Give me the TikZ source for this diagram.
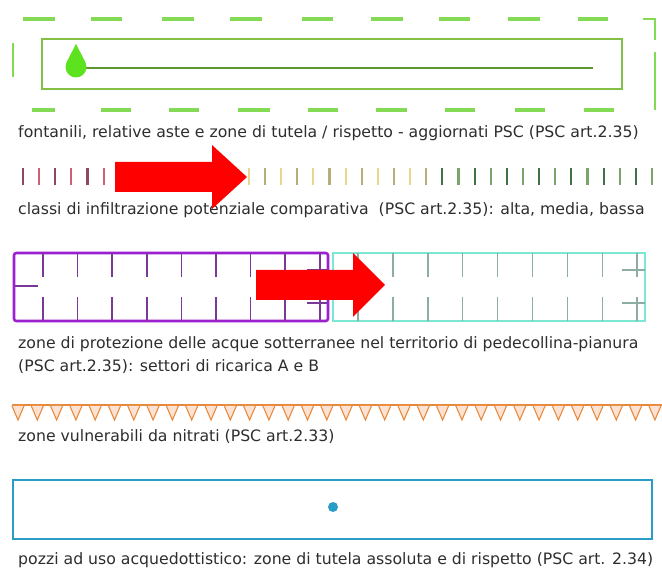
\documentclass[tikz,border=0pt]{standalone}
\usepackage{xcolor}
\usepackage{fontspec}
\setmainfont{DejaVu Sans}
\usepackage{tikz}
\usetikzlibrary{calc, positioning}

\definecolor{dashgreen}{RGB}{132,218,84}
\definecolor{rodgreen}{RGB}{132,192,70}
\definecolor{linegreen}{RGB}{96,150,50}
\definecolor{dropgreen}{RGB}{92,226,30}
\definecolor{infA}{RGB}{140,74,92}
\definecolor{infB}{RGB}{204,96,122}
\definecolor{infC}{RGB}{232,214,140}
\definecolor{infD}{RGB}{182,174,120}
\definecolor{infE}{RGB}{66,112,72}
\definecolor{infF}{RGB}{122,164,106}
\definecolor{zoneA}{RGB}{156,32,208}
\definecolor{zoneAtick}{RGB}{120,58,150}
\definecolor{zoneB}{RGB}{124,232,212}
\definecolor{zoneBtick}{RGB}{140,172,164}
\definecolor{nitro}{RGB}{232,136,58}
\definecolor{nitrofill}{RGB}{252,226,210}
\definecolor{pozzo}{RGB}{42,156,200}
\definecolor{legtext}{RGB}{45,45,45}

\begin{document}
\begin{tikzpicture}[x=0.03cm, y=-0.03cm,
    legend/.style={anchor=west, inner sep=0pt, text=legtext, font=\fontsize{13.4}{15}\selectfont},
    bigarrow/.style={fill=red},
    inftick/.style={line width=1.8pt},
    zonetick/.style={line width=1.3pt}]
\useasboundingbox (0,0) rectangle (662,570);

% fontanili
\foreach \xa/\xb in {23/55, 91/122, 162/194, 230/262, 302/333, 371/403, 439/470, 508/540, 578/608}
    \draw[dashgreen, line width=2.7pt] (\xa,19) -- (\xb,19);
\foreach \xa/\xb in {32/55, 101/131, 169/199, 238/270, 308/338, 376/407, 445/475, 515/545, 584/614}
    \draw[dashgreen, line width=2.7pt] (\xa,110) -- (\xb,110);
\draw[dashgreen, line width=1.8pt] (13,43) -- (13,77);
\draw[dashgreen, line width=2pt] (643,19) -- (655,19) -- (655,40);
\draw[dashgreen, line width=1.8pt] (655,52) -- (655,110);
\draw[rodgreen, line width=1.4pt] (42,39) rectangle (622,89);
\draw[linegreen, line width=2pt] (84,68) -- (593,68);
\fill[dropgreen] (76,67) circle (10.5);
\fill[dropgreen] (76,44) -- (85.4,62.2) -- (66.6,62.2) -- cycle;
\node[legend] (fontanili) at (18,133) {fontanili, relative aste e zone di tutela / rispetto - aggiornati PSC (PSC art.2.35)};

% classi di infiltrazione
\foreach \k in {0,...,39}{
    \ifnum\k<13 \ifodd\k \def\tc{infB}\else\def\tc{infA}\fi
    \else\ifnum\k<26 \ifodd\k \def\tc{infD}\else\def\tc{infC}\fi
    \else \ifodd\k \def\tc{infF}\else\def\tc{infE}\fi\fi\fi
    \draw[inftick, \tc] (23+16.13*\k,168) -- (23+16.13*\k,185);
}
\node[legend] (infiltrazione) at (18,210) {classi di infiltrazione potenziale comparativa\ \ (PSC art.2.35): alta, media, bassa};
\fill[bigarrow, shift={(115,177)}] (0,-15) -- (97,-15) -- (97,-32) -- (132,0) -- (97,32) -- (97,15) -- (0,15) -- cycle;

% settori di ricarica
\draw[zoneB, line width=1.8pt] (333,253) rectangle (645,321);
\foreach \k in {0,...,8}{
    \draw[zonetick, zoneBtick] (358+34.9*\k,253) -- (358+34.9*\k,277);
    \draw[zonetick, zoneBtick] (358+34.9*\k,297) -- (358+34.9*\k,321);
}
\draw[zonetick, zoneBtick] (622,270) -- (645,270) (622,303) -- (645,303);
\draw[zoneA, line width=2.2pt, rounded corners=2pt] (14,253) rectangle (328,321);
\foreach \k in {0,...,8}{
    \draw[zonetick, zoneAtick] (43+34.6*\k,253) -- (43+34.6*\k,277);
    \draw[zonetick, zoneAtick] (43+34.6*\k,297) -- (43+34.6*\k,321);
}
\draw[zonetick, zoneAtick] (15,286) -- (38,286);
\draw[zonetick, zoneAtick] (307,270) -- (327,270) (307,303) -- (327,303);
\fill[bigarrow, shift={(256,285)}] (0,-15) -- (97,-15) -- (97,-32) -- (129,0) -- (97,32) -- (97,15) -- (0,15) -- cycle;
\node[legend] (ricarica) at (18,344) {zone di protezione delle acque sotterranee nel territorio di pedecollina-pianura};
\node[legend] (ricarica2) at (18,367) {(PSC art.2.35): settori di ricarica A e B};

% nitrati
\draw[nitro, line width=1.4pt] (12,405) -- (662,405);
\foreach \k in {0,...,33}
    \filldraw[draw=nitro, fill=nitrofill, line width=0.9pt] (12+19.3*\k,406) -- (18+19.3*\k,420) -- (24+19.3*\k,406);
\node[legend] (nitrati) at (18,437) {zone vulnerabili da nitrati (PSC art.2.33)};

% pozzi
\draw[pozzo, line width=2.4pt] (13,480) rectangle (652,539);
\fill[pozzo] (333,507) circle (5);
\node[legend] (pozzi) at (18,560) {pozzi ad uso acquedottistico: zone di tutela assoluta e di rispetto (PSC art. 2.34)};
\end{tikzpicture}
\end{document}
